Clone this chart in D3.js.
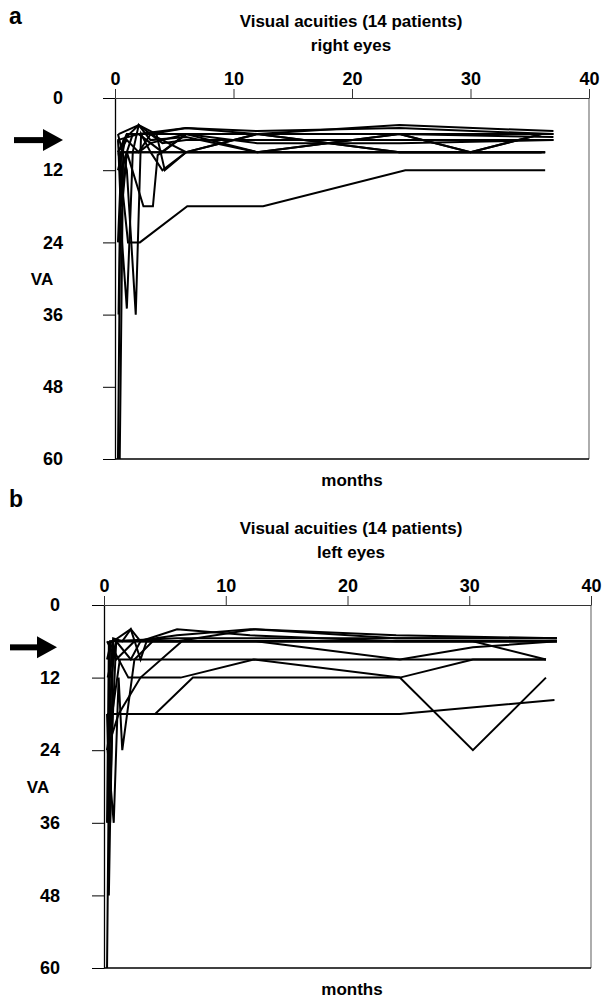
<!DOCTYPE html>
<html>
<head>
<meta charset="utf-8">
<script src="https://cdn.jsdelivr.net/npm/d3@7"></script>
<style>
  html, body { margin: 0; padding: 0; background: #fff; }
  svg text { font-family: "Liberation Sans", Arial, sans-serif; font-weight: bold; fill: #000; }
</style>
</head>
<body>
<svg id="chart" width="602" height="1002"></svg>
<script>
// ---------- data ----------
const xTicks = [0, 10, 20, 30, 40];
const yTicks = [0, 12, 24, 36, 48, 60];
const panelLabels = ["a", "b"];
const titleLine1 = "Visual acuities (14 patients)";
const subtitles = ["right eyes", "left eyes"];
const arrowVA = [7, 7];

// right eyes: each patient = list of [months, VA]
const rightEyes = [
  [[0.25,60],[0.5,9],[36.3,9]],
  [[0.4,60],[0.7,7],[2,4.5],[3,6],[6,5],[12,6],[24,4.5],[37,5.5]],
  [[0.3,9],[0.6,24],[1,35],[1.5,9],[2,4.5],[3,7],[6,6.5],[12,9],[24,6],[30,9],[36,6]],
  [[0.25,6],[1,12],[1.75,36],[2.2,6],[3,9],[4,12],[6,9],[12,6],[24,9],[36,9]],
  [[0.3,9],[1.1,24],[2.1,24],[6.1,18],[12.5,18],[24.5,12],[36.3,12]],
  [[0.25,7],[0.6,18],[1,9],[2.4,18],[3.2,18],[3.6,9.5],[6,6],[12,6],[24,6],[37,6]],
  [[0.25,9],[1,7],[2,9],[3,6],[4,7.5],[6,7],[12,7],[24,7],[37,7]],
  [[0.2,7],[2,6],[6,5],[12,5.5],[24,5],[37,6]],
  [[0.25,12],[1,6],[2,6],[4,9],[6,6],[12,9],[24,6],[30,9],[36,6]],
  [[0.3,6],[2,4.5],[3.5,6],[4.2,12],[6,9],[12,9],[24,9],[36.3,9]],
  [[0.25,9],[1,6],[3,6],[6,9],[12,6],[24,9],[36,9]],
  [[0.5,18],[1,9],[2,9],[3,7.5],[6,6],[12,6],[24,6],[37,6.5]],
  [[0.25,24],[0.5,12],[1,9],[1.5,6],[2,6],[6,6],[12,7.5],[24,7.5],[37,7]],
  [[0.3,36],[0.5,9],[1,9],[36.3,9]]
];

// left eyes
const leftEyes = [
  [[0.25,60],[0.5,6],[6,5.5],[12,5.5],[24,5.5],[37.2,5.5]],
  [[0.5,36],[0.75,6],[2.2,4],[3,6],[6,4],[12,5],[24,6],[37.2,6]],
  [[0.3,36],[0.6,12],[1,6],[2,6],[6,6],[12.3,4],[24,5.5],[37.2,5.5]],
  [[0.25,24],[1.3,9],[36.3,9]],
  [[0.3,24],[0.8,36],[1.2,12],[1.5,24],[2.5,9],[4,6],[6,6],[12,6],[24,6],[37.2,6]],
  [[0.25,18],[0.5,36],[0.7,18],[2,18],[4.2,18],[7.3,12],[24.3,12],[30.3,24],[36.3,12]],
  [[0.25,18],[4.5,18],[24.3,18],[37,15.7]],
  [[0.25,36],[0.4,6],[2,12],[6.3,12],[12.3,9],[24.3,12],[30.3,9],[36.3,9]],
  [[0.3,12],[1,6],[2,6],[6,6],[12.5,6],[24.3,9],[30.3,7],[37.2,6]],
  [[0.25,9],[0.6,6],[3,6],[6,6],[12,6],[24,6],[30.3,6],[36.3,9]],
  [[0.25,6],[1,9],[2.5,6],[6,5],[12,4],[24,5],[37.2,5.5]],
  [[0.5,12],[0.75,5.5],[1.5,6],[2.2,4],[3,9],[3.5,6],[6,6],[37.2,6]],
  [[0.25,24],[1.2,18],[3,12],[6.4,6],[12,6],[24,6],[37.2,6]],
  [[0.4,48],[0.6,24],[1,6],[2.2,9],[3,6],[6,6],[12,6],[24,6],[37.2,6]]
];

const panelData = [rightEyes, leftEyes];

// ---------- layout ----------
const panels = [
  { left: 115, right: 589, top: 98, bottom: 459, letterY: 24, arrowX0: 14, arrowX1: 63, labelRight: 63, vaX: 42 },
  { left: 104, right: 591, top: 605, bottom: 968, letterY: 507, arrowX0: 10, arrowX1: 57, labelRight: 60, vaX: 38 }
];

const svg = d3.select("#chart");
const tickFont = "18px";

panels.forEach((p, i) => {
  const g = svg.append("g");
  const x = d3.scaleLinear().domain([0, 40]).range([p.left, p.right]);
  const y = d3.scaleLinear().domain([0, 60]).range([p.top, p.bottom]);

  // panel letter
  g.append("text").attr("x", 9).attr("y", p.letterY)
    .style("font-size", "23px").text(panelLabels[i]);

  // titles
  const cx = 351;
  g.append("text").attr("x", cx).attr("y", p.top - 71).attr("text-anchor", "middle")
    .style("font-size", "17px").text(titleLine1);
  g.append("text").attr("x", cx).attr("y", p.top - 47).attr("text-anchor", "middle")
    .style("font-size", "17px").text(subtitles[i]);

  // frame: right and bottom
  g.append("line").attr("x1", x(40)).attr("x2", x(40)).attr("y1", y(0)).attr("y2", y(60))
    .attr("stroke", "#777").attr("stroke-width", 1.2);
  g.append("line").attr("x1", p.left).attr("x2", x(40)).attr("y1", y(60)).attr("y2", y(60))
    .attr("stroke", "#000").attr("stroke-width", 1.5);

  // top x axis
  const xAxis = d3.axisTop(x).tickValues(xTicks).tickSize(9).tickSizeOuter(0).tickPadding(4);
  const gx = g.append("g").attr("transform", `translate(0,${y(0)})`).call(xAxis);
  gx.select(".domain").attr("stroke", "#333").attr("stroke-width", 1.2);
  gx.selectAll(".tick line").attr("stroke", "#333");
  gx.selectAll(".tick text").style("font-size", tickFont).style("font-family", "Liberation Sans, Arial, sans-serif").style("font-weight", "bold").attr("fill", "#000");

  // left y axis
  const yAxis = d3.axisLeft(y).tickValues(yTicks).tickSize(12).tickSizeOuter(0)
    .tickPadding(p.left - 12 - p.labelRight);
  const gy = g.append("g").attr("transform", `translate(${p.left},0)`).call(yAxis);
  gy.select(".domain").attr("stroke", "#000").attr("stroke-width", 1.3);
  gy.selectAll(".tick line").attr("stroke", "#000");
  gy.selectAll(".tick text").style("font-size", tickFont).style("font-family", "Liberation Sans, Arial, sans-serif").style("font-weight", "bold").attr("fill", "#000");

  // axis titles
  g.append("text").attr("x", p.vaX).attr("y", y(30) + 6).attr("text-anchor", "middle")
    .style("font-size", "17px").text("VA");
  g.append("text").attr("x", 352).attr("y", p.bottom + 27).attr("text-anchor", "middle")
    .style("font-size", "17px").text("months");

  // arrow
  const ay = y(arrowVA[i]);
  g.append("rect").attr("x", p.arrowX0).attr("y", ay - 3).attr("width", p.arrowX1 - p.arrowX0 - 18).attr("height", 6).attr("fill", "#000");
  g.append("path").attr("d", `M${p.arrowX1 - 20},${ay - 11} L${p.arrowX1},${ay} L${p.arrowX1 - 20},${ay + 11} Z`).attr("fill", "#000");

  // data lines
  const line = d3.line().x(d => x(d[0])).y(d => y(d[1]));
  g.append("g").selectAll("path").data(panelData[i]).join("path")
    .attr("d", line).attr("fill", "none").attr("stroke", "#000")
    .attr("stroke-width", 2).attr("stroke-linejoin", "miter");
});
</script>
</body>
</html>
